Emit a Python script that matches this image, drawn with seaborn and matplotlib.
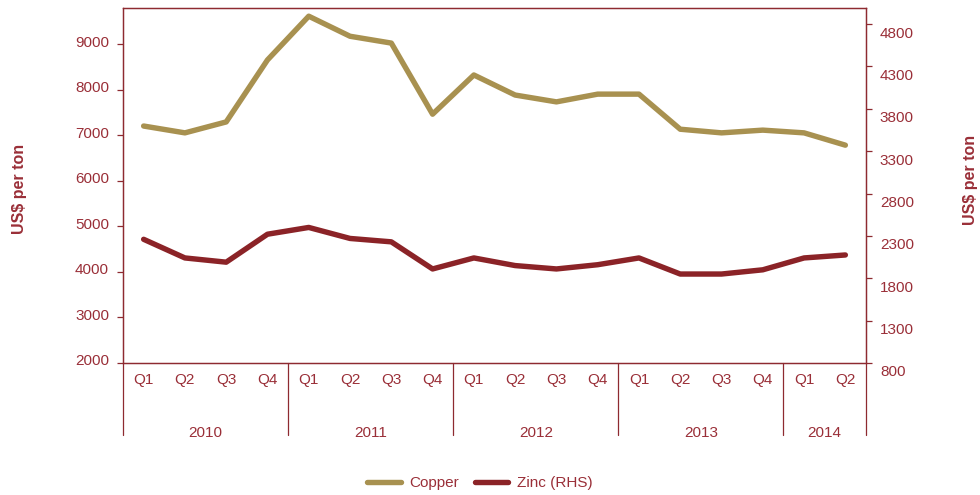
import numpy as np
import pandas as pd
import matplotlib
matplotlib.use("Agg")
import matplotlib.pyplot as plt
import matplotlib.transforms as mtransforms
import seaborn as sns

# ---- data ----
quarters = ["Q1", "Q2", "Q3", "Q4"] * 4 + ["Q1", "Q2"]
year_of_point = ["2010"] * 4 + ["2011"] * 4 + ["2012"] * 4 + ["2013"] * 4 + ["2014"] * 2
copper = [7200, 7050, 7290, 8650, 9610, 9170, 9020, 7460, 8320, 7880,
          7730, 7900, 7900, 7130, 7050, 7110, 7050, 6780]
zinc = [2260, 2040, 1990, 2320, 2400, 2270, 2230, 1910, 2040, 1950,
        1910, 1960, 2040, 1850, 1850, 1900, 2040, 2075]
left_ticks = [2000, 3000, 4000, 5000, 6000, 7000, 8000, 9000]
right_ticks = [800, 1300, 1800, 2300, 2800, 3300, 3800, 4300, 4800]
series_names = ["Copper", "Zinc (RHS)"]
ylabel_text = "US$ per ton"

# ---- style ----
sns.set_theme(style="white")
plt.rcParams["font.family"] = ["Liberation Sans", "DejaVu Sans"]

RED = "#8E2A30"
TXT = "#9A2F38"
GOLD = "#A89150"
ZINC = "#8B2327"

df = pd.DataFrame({"pos": np.arange(len(copper)), "Copper": copper, "Zinc": zinc})

fig = plt.figure(figsize=(9.8, 4.95), dpi=100)
ax = fig.add_axes([123 / 980, 1 - 363 / 495, (866 - 123) / 980, (363 - 8) / 495])
ax2 = ax.twinx()

sns.lineplot(data=df, x="pos", y="Copper", ax=ax, color=GOLD, linewidth=3.9,
             legend=False)
sns.lineplot(data=df, x="pos", y="Zinc", ax=ax2, color=ZINC, linewidth=3.9,
             legend=False)
for a in (ax, ax2):
    for ln in a.get_lines():
        ln.set_solid_capstyle("round")

n = len(copper)
ax.set_xlim(-0.5, n - 0.5)
ax.set_ylim(2000, 9790)
ax2.set_ylim(800, 4990)

ax.set_xticks(np.arange(n))
ax.set_xticklabels(quarters)
ax.set_yticks(left_ticks)
ax2.set_yticks(right_ticks)
ax.set_xlabel("")

for a in (ax, ax2):
    for sp in a.spines.values():
        sp.set_color(RED)
        sp.set_linewidth(0.9)
        sp.set_visible(True)
    a.grid(False)

ax.tick_params(axis="x", length=0, pad=7, labelsize=11, labelcolor=TXT)
ax.tick_params(axis="y", length=4, width=0.9, color=RED, pad=6,
               labelsize=11, labelcolor=TXT, left=True, direction="out")
ax2.tick_params(axis="y", length=4, width=0.9, color=RED, pad=6,
                labelsize=11, labelcolor=TXT, right=True, direction="out")

# shift tick labels slightly like the reference
for lab in ax.get_yticklabels():
    lab.set_transform(lab.get_transform() + mtransforms.ScaledTranslation(0, 3 / 100, fig.dpi_scale_trans))
for lab in ax2.get_yticklabels():
    lab.set_transform(lab.get_transform() + mtransforms.ScaledTranslation(0, -8 / 100, fig.dpi_scale_trans))

ax.set_ylabel(ylabel_text, fontsize=11.5, fontweight="bold", color=TXT)
ax.yaxis.set_label_coords(-0.129, 0.49)
ax2.set_ylabel(ylabel_text, fontsize=11.5, fontweight="bold", color=TXT, rotation=90)
ax2.yaxis.set_label_coords(1.131, 0.515)

# year separators and labels
trans = mtransforms.blended_transform_factory(ax.transData, ax.transAxes)
years = []
for y in year_of_point:
    if y not in years:
        years.append(y)
bounds = [-0.5]
for y in years:
    bounds.append(bounds[-1] + year_of_point.count(y))
sep_depth = -(435 - 363) / 355
for b in bounds:
    ax.plot([b, b], [0, sep_depth], transform=trans, clip_on=False,
            color=RED, linewidth=0.9)
for i, y in enumerate(years):
    ax.text((bounds[i] + bounds[i + 1]) / 2, -(433 - 363) / 355, y,
            transform=trans, ha="center", va="center", fontsize=11, color=TXT)

# legend
handles = [ax.get_lines()[0], ax2.get_lines()[0]]
fig.legend(handles, series_names, loc="center", bbox_to_anchor=(480 / 980, 12 / 495),
           ncol=2, frameon=False, fontsize=11, handlelength=2.2,
           handletextpad=0.6, columnspacing=1.0, labelcolor=TXT)

fig.savefig("out.png", dpi=100)
